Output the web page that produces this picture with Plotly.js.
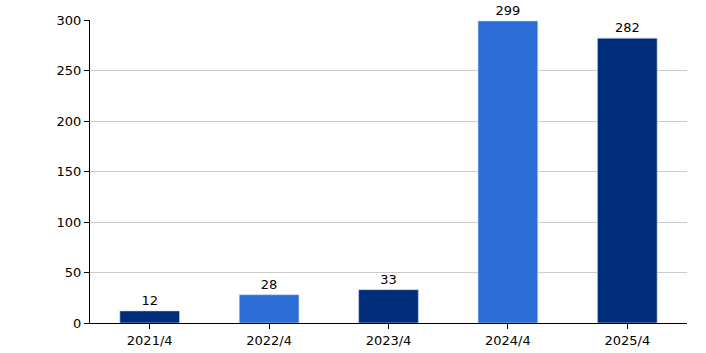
<!DOCTYPE html>
<html><head><meta charset="utf-8">
<script src="https://cdn.plot.ly/plotly-3.0.1.min.js"></script>
<style>html,body{margin:0;padding:0;background:#fff}</style>
</head><body><div id="chart" style="width:706px;height:353px"></div>
<script>
const categories = ["2021/4","2022/4","2023/4","2024/4","2025/4"];
const values = [12, 28, 33, 299, 282];
const barColors = ["#002D7A","#2B6CD6","#002D7A","#2B6CD6","#002D7A"];
const yTicks = [0,50,100,150,200,250,300];

Plotly.newPlot("chart", [{
  type: "bar",
  x: categories,
  y: values,
  marker: {color: barColors, line: {color: "rgba(200,215,240,0.6)", width: 1}},
  text: values.map(String),
  textposition: "outside",
  cliponaxis: false,
  textfont: {family: "DejaVu Sans, Verdana, sans-serif", size: 13, color: "#000"},
  hoverinfo: "none"
}], {
  width: 706, height: 353,
  margin: {l: 90, r: 19, t: 20, b: 30},
  paper_bgcolor: "#fff", plot_bgcolor: "#fff",
  bargap: 0.5,
  showlegend: false,
  font: {family: "DejaVu Sans, Verdana, sans-serif", size: 13, color: "#000"},
  xaxis: {
    type: "category",
    showline: true, linecolor: "#000", linewidth: 1,
    ticks: "outside", ticklen: 5, tickcolor: "#000",
    showgrid: false, zeroline: false,
    tickfont: {size: 13}
  },
  yaxis: {
    range: [0, 300],
    tickvals: yTicks,
    showline: true, linecolor: "#000", linewidth: 1,
    ticks: "outside", ticklen: 5, tickcolor: "#000",
    showgrid: true, gridcolor: "#cccccc", gridwidth: 1,
    zeroline: false,
    tickfont: {size: 13}
  }
}, {staticPlot: true});
</script></body></html>
